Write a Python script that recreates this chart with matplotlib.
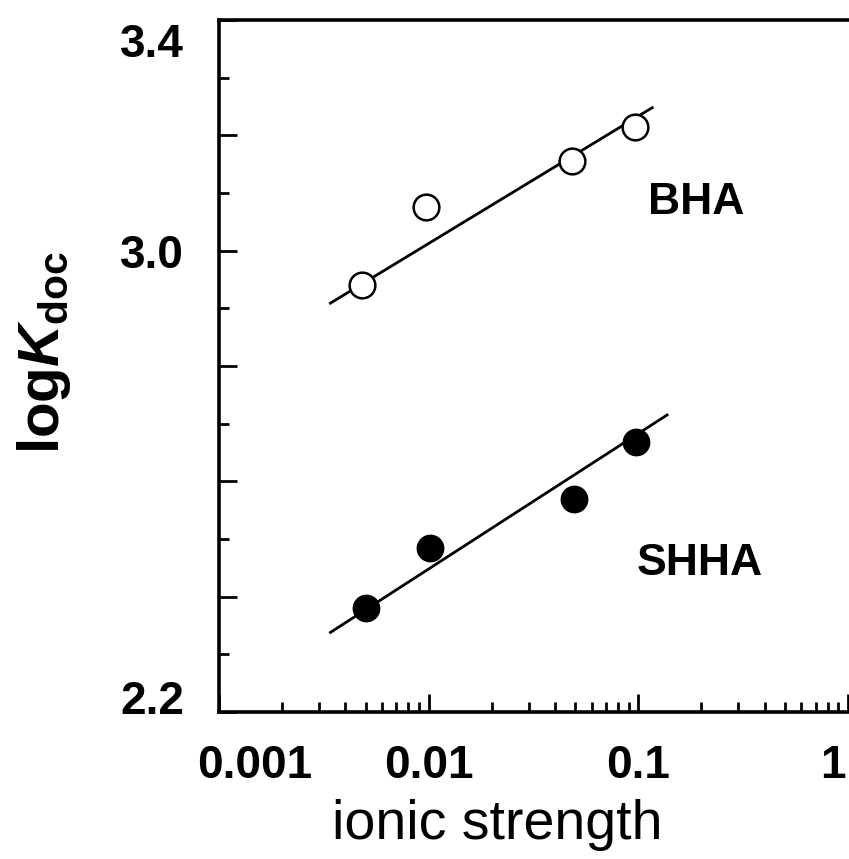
import numpy as np
import matplotlib
matplotlib.use("Agg")
import matplotlib.pyplot as plt
import matplotlib.transforms as mtransforms
from matplotlib.ticker import LogLocator, NullFormatter, FixedLocator, MultipleLocator

plt.rcParams["font.family"] = ["Liberation Sans", "DejaVu Sans"]
plt.rcParams["mathtext.fontset"] = "custom"
plt.rcParams["mathtext.rm"] = "Liberation Sans:bold"
plt.rcParams["mathtext.it"] = "Liberation Sans:bold:italic"
plt.rcParams["mathtext.bf"] = "Liberation Sans:bold"

# ionic strength (M) and log K_doc for the two humic acids
bha_ionic = [0.0048, 0.0097, 0.048, 0.096]
bha_logk = [2.94, 3.075, 3.155, 3.215]
shha_ionic = [0.005, 0.0101, 0.0496, 0.098]
shha_logk = [2.38, 2.485, 2.57, 2.668]

# regression lines (end points)
bha_fit_x = [0.0034, 0.1165]
bha_fit_y = [2.909, 3.248]
shha_fit_x = [0.0034, 0.137]
shha_fit_y = [2.338, 2.715]

x_ticks = [0.001, 0.01, 0.1, 1]
x_ticklabels = ["0.001", "0.01", "0.1", "1"]
y_ticks = [2.2, 2.4, 2.6, 2.8, 3.0, 3.2, 3.4]
y_ticklabels = ["2.2", "", "", "", "3.0", "", "3.4"]

W, H = 849, 859
fig = plt.figure(figsize=(W / 100, H / 100), dpi=100)
ax = fig.add_axes([219 / W, 147 / H, (848 - 219) / W, (712 - 20) / H])

ax.plot(bha_fit_x, bha_fit_y, color="black", lw=2.0, zorder=2)
ax.plot(shha_fit_x, shha_fit_y, color="black", lw=2.0, zorder=2)
ax.plot(bha_ionic, bha_logk, "o", ms=18.5, mfc="white", mec="black", mew=1.8,
        linestyle="none", zorder=3)
ax.plot(shha_ionic, shha_logk, "o", ms=19, mfc="black", mec="black", mew=1.0,
        linestyle="none", zorder=3)

ax.set_xscale("log")
ax.set_xlim(0.001, 1)
ax.set_ylim(2.2, 3.4)

ax.xaxis.set_major_locator(FixedLocator(x_ticks))
ax.set_xticklabels(x_ticklabels)
ax.xaxis.set_minor_locator(LogLocator(base=10, subs=np.arange(2, 10)))
ax.xaxis.set_minor_formatter(NullFormatter())
ax.set_yticks(y_ticks)
ax.set_yticklabels(y_ticklabels)
ax.yaxis.set_minor_locator(MultipleLocator(0.1))

ax.tick_params(axis="both", which="major", direction="in", length=13, width=2,
               labelsize=33, top=False, right=False)
ax.tick_params(axis="both", which="minor", direction="in", length=7, width=2,
               top=False, right=False)
ax.tick_params(axis="x", which="major", pad=23)
ax.tick_params(axis="y", which="major", pad=25)
for lab in ax.get_xticklabels() + ax.get_yticklabels():
    lab.set_fontweight("bold")

for s in ["left", "bottom", "top"]:
    ax.spines[s].set_linewidth(2.6)
ax.spines["right"].set_visible(False)


def shift(label, dx, dy):
    off = mtransforms.ScaledTranslation(dx / 100, dy / 100, fig.dpi_scale_trans)
    label.set_transform(label.get_transform() + off)


xt = ax.xaxis.get_major_ticks()
shift(xt[0].label1, 36, 0)
shift(xt[-1].label1, -15, 0)
yt = ax.yaxis.get_major_ticks()
shift(yt[0].label1, 0, 15)
shift(yt[-1].label1, 0, -20)

ax.text(0.188, 3.083, "BHA", fontsize=32, fontweight="bold", ha="center", va="center")
ax.text(0.197, 2.458, "SHHA", fontsize=32, fontweight="bold", ha="center", va="center")

ax.set_xlabel("ionic strength", fontsize=40, va="center")
ax.xaxis.set_label_coords((497 - 219) / 629, -(825 - 712) / 692)
ax.set_ylabel(r"log$\mathit{K}_{\mathrm{doc}}$", fontsize=42, fontweight="bold", va="center")
ax.yaxis.set_label_coords((44 - 219) / 629, (712 - 352) / 692)

fig.savefig("out.png", dpi=100)
